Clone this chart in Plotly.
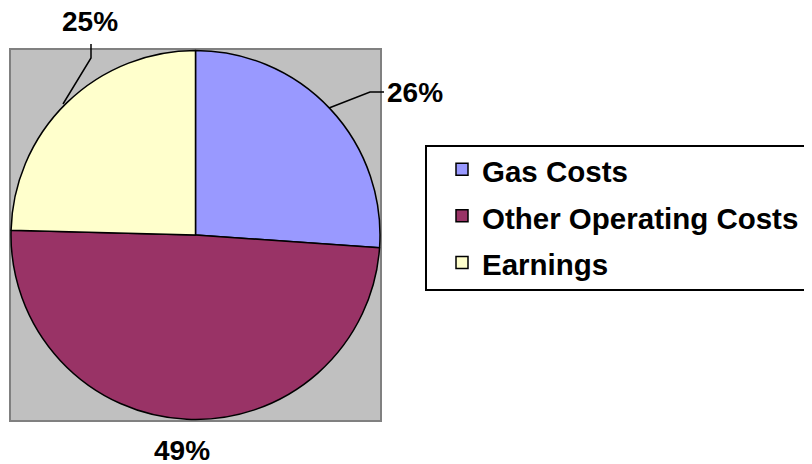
import plotly.graph_objects as go

categories = ["Gas Costs", "Other Operating Costs", "Earnings"]
values = [26.1, 49.3, 24.6]
colors = ["#9999FF", "#993366", "#FFFFCC"]

# page has an 8px body margin, so the figure is drawn 8px in from the corner
OFF = 8
W, H = 812 - OFF, 464 - OFF
FONT = "Arial, Liberation Sans, sans-serif"

def px(x):
    return (x - OFF) / W

def py(y):
    return 1 - (y - OFF) / H

total = sum(values)
pct = [f"{round(v / total * 100)}%" for v in values]

legend_labels = [f'<span style="font-size:29.5px">{c}</span>' for c in categories]

fig = go.Figure(
    go.Pie(
        labels=legend_labels,
        values=values,
        sort=False,
        direction="clockwise",
        rotation=0,
        marker=dict(colors=colors, line=dict(color="black", width=1.5)),
        textinfo="none",
        hoverinfo="label+percent",
        domain=dict(x=[px(11), px(380)], y=[py(420), py(50)]),
    )
)

shapes = [
    # gray plot area
    dict(type="rect", xref="paper", yref="paper", x0=px(10), x1=px(381), y0=py(421), y1=py(49),
         fillcolor="#C0C0C0", line=dict(color="#808080", width=2), layer="below"),
    # legend box
    dict(type="rect", xref="paper", yref="paper", x0=px(426), x1=px(807), y0=py(290), y1=py(146),
         fillcolor="white", line=dict(color="black", width=2), layer="below"),
    # leader lines
    dict(type="path", xref="paper", yref="paper",
         path=f"M {px(384)},{py(92)} L {px(370)},{py(92)} L {px(329)},{py(108)}",
         line=dict(color="black", width=1.5)),
    dict(type="path", xref="paper", yref="paper",
         path=f"M {px(91)},{py(44)} L {px(91)},{py(58)} L {px(63)},{py(104)}",
         line=dict(color="black", width=1.5)),
]

label_pos = [(415, 93), (182, 450), (90, 22)]
annotations = []
for t, (x, y) in zip(pct, label_pos):
    annotations.append(dict(
        text=t, x=px(x), y=py(y), xref="paper", yref="paper",
        showarrow=False, xanchor="center", yanchor="middle",
        font=dict(family=FONT, size=28, color="black", weight="bold"),
    ))

fig.update_layout(
    width=W, height=H,
    margin=dict(l=0, r=0, t=0, b=0),
    paper_bgcolor="white",
    plot_bgcolor="white",
    shapes=shapes,
    annotations=annotations,
    showlegend=True,
    legend=dict(
        x=px(442), y=py(141), xanchor="left", yanchor="top",
        bgcolor="rgba(0,0,0,0)", borderwidth=0,
        font=dict(family=FONT, size=33.5, color="black", weight="bold"),
        traceorder="normal",
    ),
)

fig.write_html("out.html")
